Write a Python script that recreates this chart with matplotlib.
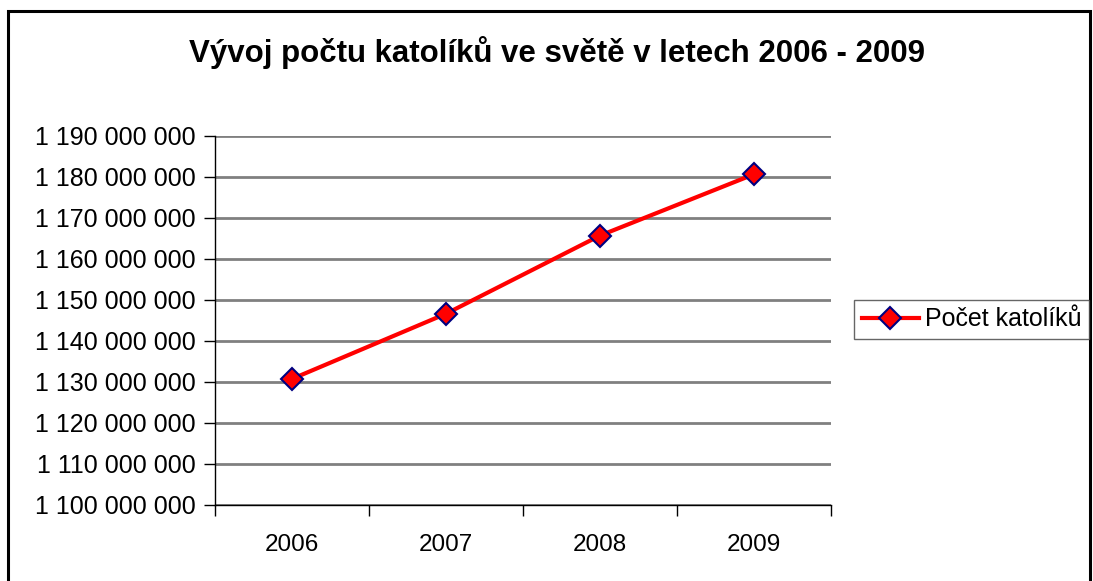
import matplotlib
matplotlib.use("Agg")
import matplotlib.pyplot as plt
from matplotlib.patches import Rectangle
from matplotlib.ticker import FuncFormatter, MultipleLocator

years = ["2006", "2007", "2008", "2009"]
catholics = [1130750000, 1146650000, 1165710000, 1180670000]
series_name = "Počet katolíků"
title = "Vývoj počtu katolíků ve světě v letech 2006 - 2009"

plt.rcParams["font.family"] = ["Liberation Sans", "DejaVu Sans"]

fig = plt.figure(figsize=(10.93, 5.81), dpi=100)

# outer chart frame (runs off the right and bottom edges)
fig.patches.append(Rectangle((8 / 1093, -0.05), 1082 / 1093, 1.05 - 11 / 581,
                             transform=fig.transFigure, fill=False,
                             edgecolor="black", linewidth=2.2))

ax = fig.add_axes([215 / 1093, 1 - 505 / 581, 616 / 1093, 369 / 581])

x = list(range(len(years)))
ax.plot(x, catholics, color="#ff0000", linewidth=3, marker="D",
        markersize=11, markerfacecolor="#ff0000", markeredgecolor="#000080",
        markeredgewidth=1.5, label=series_name, zorder=3)

ax.set_xlim(-0.5, len(years) - 0.5)
ax.set_ylim(1100000000, 1190000000)
ax.yaxis.set_major_locator(MultipleLocator(10000000))
ax.yaxis.set_major_formatter(FuncFormatter(lambda v, p: f"{int(v):,}".replace(",", " ")))
ax.yaxis.grid(True, color="#808080", linewidth=2)
ax.set_axisbelow(True)

# category axis: ticks between categories, labels centred
ax.set_xticks([i - 0.5 for i in range(len(years) + 1)])
ax.set_xticklabels([])
ax.set_xticks(x, minor=True)
ax.set_xticklabels(years, minor=True)
ax.tick_params(axis="x", which="minor", length=0, pad=21, labelsize=17.5)
ax.tick_params(axis="x", which="major", length=8, width=1, direction="out")
ax.tick_params(axis="y", length=8, width=1, labelsize=18, pad=6)

for s in ["top", "right"]:
    ax.spines[s].set_visible(False)
for s in ["left", "bottom"]:
    ax.spines[s].set_linewidth(1)

fig.text(557 / 1093, 1 - 62 / 581, title, ha="center", va="baseline",
         fontsize=22.5, fontweight="bold")

fig.legend(loc="upper left", bbox_to_anchor=(854 / 1093, 1 - 300 / 581),
           fontsize=18, frameon=True, fancybox=False, edgecolor="#404040",
           borderpad=0.3, handlelength=2.3, handletextpad=0.25,
           borderaxespad=0)

fig.savefig("out.png", dpi=100)
